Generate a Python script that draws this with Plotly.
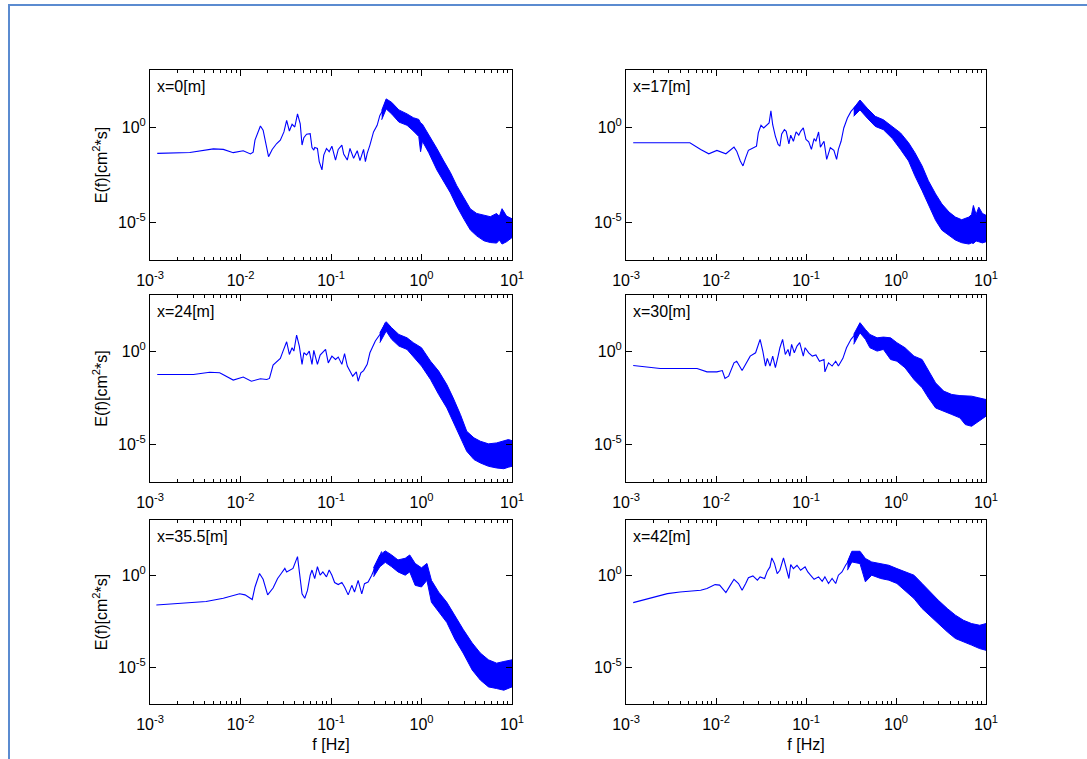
import plotly.graph_objects as go

# ---------------- data (log10 readings from the picture) ----------------
panel_labels = ["x=0[m]", "x=17[m]", "x=24[m]", "x=30[m]", "x=35.5[m]", "x=42[m]"]

# low-frequency part of each spectrum: log10 f [Hz], log10 E [cm^2 s]
lf_0 = [-2.92, -2.56, -2.30, -2.19, -2.08, -1.97, -1.89, -1.86, -1.84, -1.78, -1.75, -1.72, -1.69, -1.65, -1.60, -1.56,
        -1.52, -1.49, -1.46, -1.43, -1.40, -1.37, -1.34, -1.32, -1.30, -1.27, -1.23, -1.21, -1.19, -1.18, -1.15, -1.13,
        -1.10, -1.08, -1.05, -1.02, -0.99, -0.95, -0.92, -0.88, -0.86, -0.82, -0.79, -0.75, -0.71, -0.68, -0.64, -0.62,
        -0.60, -0.57, -0.53, -0.49, -0.46, -0.42, -0.39]
lE_0 = [-1.39, -1.34, -1.15, -1.18, -1.35, -1.25, -1.42, -1.32, -0.69, 0.05, -0.17, -0.87, -1.56, -1.18, -0.87, -0.69,
        -0.26, 0.35, -0.21, 0.14, 0.00, 0.69, 0.17, -0.95, -0.56, -0.38, -0.35, -1.08, -1.22, -1.08, -1.13, -1.82,
        -2.26, -1.48, -1.13, -1.30, -1.01, -1.74, -1.18, -0.95, -1.42, -1.74, -1.13, -1.65, -1.25, -1.77, -1.18, -1.82,
        -1.39, -0.95, -0.26, 0.09, 0.61, 0.95, 1.42]

lf_17 = [-2.92, -2.29, -2.17, -2.08, -1.99, -1.89, -1.80, -1.77, -1.73, -1.70, -1.67, -1.64, -1.60, -1.55, -1.53, -1.50,
         -1.47, -1.44, -1.41, -1.39, -1.37, -1.34, -1.31, -1.29, -1.27, -1.24, -1.22, -1.19, -1.17, -1.14, -1.11, -1.08,
         -1.06, -1.03, -1.00, -0.97, -0.94, -0.91, -0.89, -0.86, -0.84, -0.80, -0.77, -0.73, -0.69, -0.66, -0.64, -0.61,
         -0.58, -0.54, -0.50, -0.45, -0.40]
lE_17 = [-0.83, -0.83, -1.18, -1.41, -1.23, -1.41, -1.06, -1.27, -1.79, -2.05, -1.61, -1.23, -1.13, -1.01, -0.31, 0.09,
         -0.05, 0.09, 0.21, 0.85, 0.12, -0.49, -0.92, -1.01, -0.36, -0.14, -0.23, -0.89, -0.43, -0.75, -0.26, -0.43,
         -0.23, -0.05, -0.66, -0.78, -1.18, -0.61, -0.75, -0.26, -1.06, -0.75, -1.70, -1.09, -1.23, -1.70, -1.18, -0.75,
         -0.05, 0.47, 0.82, 1.08, 1.37]

lf_24 = [-2.92, -2.52, -2.34, -2.23, -2.08, -1.97, -1.88, -1.78, -1.71, -1.68, -1.64, -1.56, -1.53, -1.49, -1.46, -1.43,
         -1.41, -1.38, -1.35, -1.32, -1.30, -1.27, -1.24, -1.21, -1.19, -1.15, -1.12, -1.06, -1.03, -0.99, -0.95, -0.92,
         -0.88, -0.85, -0.82, -0.79, -0.76, -0.72, -0.70, -0.67, -0.64, -0.60, -0.57, -0.51, -0.46, -0.40]
lE_24 = [-1.25, -1.25, -1.13, -1.16, -1.55, -1.39, -1.61, -1.48, -1.52, -1.46, -0.75, -0.39, 0.00, 0.50, -0.18, 0.18,
         0.00, 0.86, 0.27, -0.71, -0.09, -0.21, 0.00, -0.71, 0.04, -0.71, -0.21, 0.09, -0.63, -0.27, -0.45, -0.32,
         -0.71, -0.14, -0.80, -1.07, -1.34, -1.11, -1.61, -1.16, -1.04, -0.71, -0.09, 0.54, 0.89, 1.52]

lf_30 = [-2.92, -2.62, -2.21, -2.10, -1.99, -1.93, -1.90, -1.86, -1.80, -1.77, -1.71, -1.67, -1.62, -1.56, -1.51, -1.48,
         -1.45, -1.43, -1.40, -1.37, -1.34, -1.31, -1.29, -1.26, -1.23, -1.20, -1.18, -1.16, -1.13, -1.10, -1.07, -1.03,
         -1.01, -0.97, -0.93, -0.89, -0.85, -0.80, -0.79, -0.75, -0.71, -0.67, -0.64, -0.59, -0.55, -0.50, -0.44, -0.40]
lE_30 = [-0.77, -0.93, -0.93, -1.11, -1.11, -1.04, -1.46, -1.34, -0.63, -0.54, -1.04, -0.71, -0.27, -0.09, 0.63, 0.00,
         -0.80, -0.39, -0.80, -0.27, -0.89, -0.27, 0.18, 0.63, -0.18, 0.09, -0.27, 0.36, -0.09, 0.27, 0.45, -0.27,
         0.18, -0.09, -0.27, -0.21, -0.54, -0.45, -1.11, -0.63, -0.80, -0.54, -0.80, -0.39, 0.18, 0.63, 0.98, 1.46]

lf_35 = [-2.93, -2.38, -2.19, -2.01, -1.95, -1.90, -1.87, -1.84, -1.79, -1.75, -1.72, -1.70, -1.64, -1.59, -1.55, -1.51,
         -1.49, -1.46, -1.42, -1.37, -1.35, -1.32, -1.29, -1.26, -1.23, -1.21, -1.18, -1.15, -1.12, -1.09, -1.05, -1.02,
         -0.99, -0.96, -0.92, -0.88, -0.85, -0.81, -0.77, -0.74, -0.70, -0.66, -0.63, -0.59, -0.55, -0.51, -0.48, -0.44]
lE_35 = [-1.62, -1.43, -1.25, -1.01, -1.07, -1.25, -1.32, -0.64, 0.09, -0.22, -0.83, -1.07, -0.70, -0.18, 0.09, 0.37,
         0.18, 0.28, 0.37, 1.01, 0.18, -1.01, -1.25, -0.83, 0.00, 0.28, -0.18, 0.46, 0.00, 0.18, -0.09, 0.28,
         0.00, -0.40, -0.51, -0.40, -0.64, -1.07, -0.55, -0.92, -0.28, -1.01, -0.46, -0.37, 0.00, 0.46, 0.83, 1.29]

lf_42 = [-2.92, -2.73, -2.54, -2.40, -2.17, -2.10, -2.01, -1.96, -1.89, -1.84, -1.80, -1.75, -1.71, -1.67, -1.64, -1.59,
         -1.54, -1.51, -1.46, -1.43, -1.40, -1.38, -1.35, -1.32, -1.29, -1.25, -1.22, -1.19, -1.17, -1.14, -1.10, -1.06,
         -1.01, -0.98, -0.95, -0.91, -0.86, -0.82, -0.79, -0.75, -0.71, -0.67, -0.64, -0.60, -0.56, -0.53, -0.49]
lE_42 = [-1.49, -1.23, -1.00, -0.91, -0.82, -0.72, -0.51, -0.54, -0.94, -0.54, -0.22, -0.45, -0.82, -0.45, -0.14, -0.04,
         -0.27, -0.09, -0.18, 0.22, 0.45, 0.94, 0.63, 0.09, 0.27, 0.94, 0.45, -0.18, 0.58, 0.36, 0.54, 0.27,
         0.45, 0.18, 0.00, -0.22, -0.09, -0.33, -0.09, -0.45, -0.18, -0.45, 0.00, 0.18, 0.54, 0.76, 1.27]

# noisy high-frequency band: log10 f, upper and lower envelope of log10 E
bf_0 = [-0.44, -0.39, -0.33, -0.25, -0.16, -0.09, -0.03, -0.01, 0.01, 0.08, 0.17, 0.24, 0.32, 0.39, 0.47, 0.54, 0.61,
        0.69, 0.76, 0.83, 0.86, 0.89, 0.94, 1.00]
bhi_0 = [0.87, 1.48, 1.30, 0.90, 0.69, 0.49, 0.40, 0.21, 0.15, -0.38, -1.13, -1.74, -2.40, -3.09, -3.78, -4.31, -4.55,
         -4.65, -4.72, -4.55, -4.70, -4.30, -4.69, -4.83]
blo_0 = [0.38, 0.95, 0.69, 0.26, 0.09, -0.21, -0.50, -1.30, -0.75, -1.35, -2.26, -2.86, -3.47, -4.17, -4.86, -5.42,
         -5.73, -5.99, -6.08, -6.11, -5.95, -6.16, -6.04, -5.82]

bf_17 = [-0.47, -0.40, -0.32, -0.23, -0.14, -0.04, 0.05, 0.14, 0.21, 0.29, 0.36, 0.44, 0.51, 0.59, 0.66, 0.73, 0.81,
         0.84, 0.86, 0.89, 0.92, 0.96, 1.00]
bhi_17 = [0.99, 1.42, 0.99, 0.56, 0.38, 0.03, -0.31, -0.83, -1.35, -2.05, -2.83, -3.52, -4.05, -4.48, -4.74, -4.88,
          -4.74, -4.60, -4.13, -4.60, -4.22, -4.55, -4.65]
blo_17 = [0.56, 0.90, 0.47, 0.03, -0.14, -0.61, -1.18, -1.79, -2.57, -3.35, -4.05, -4.91, -5.43, -5.69, -5.95, -6.09,
          -6.16, -6.10, -6.13, -6.00, -6.04, -6.10, -6.04]

bf_24 = [-0.46, -0.39, -0.33, -0.25, -0.16, -0.09, 0.00, 0.10, 0.19, 0.28, 0.35, 0.43, 0.50, 0.58, 0.65, 0.74, 0.83,
         0.91, 0.96, 1.00]
bhi_24 = [0.98, 1.57, 1.25, 0.89, 0.71, 0.45, 0.18, -0.54, -1.07, -1.79, -2.50, -3.39, -4.29, -4.64, -4.82, -4.96, -4.91,
          -4.82, -4.73, -4.79]
blo_24 = [0.45, 1.07, 0.63, 0.27, 0.09, -0.27, -0.80, -1.52, -2.32, -3.04, -3.84, -4.64, -5.36, -5.80, -5.98, -6.16,
          -6.25, -6.29, -6.21, -6.16]

bf_30 = [-0.47, -0.40, -0.34, -0.29, -0.21, -0.14, -0.06, 0.01, 0.10, 0.20, 0.29, 0.36, 0.44, 0.53, 0.62, 0.71, 0.77,
         0.84, 0.92, 1.00]
bhi_30 = [0.89, 1.52, 1.16, 0.89, 0.71, 0.75, 0.71, 0.45, 0.18, -0.27, -0.45, -1.07, -1.70, -2.14, -2.32, -2.38, -2.38,
          -2.41, -2.50, -2.59]
blo_30 = [0.36, 0.98, 0.63, 0.18, 0.00, 0.09, -0.45, -0.54, -0.89, -1.52, -1.96, -2.50, -3.04, -3.21, -3.39, -3.57,
          -3.93, -4.02, -3.75, -3.48]

bf_35 = [-0.53, -0.46, -0.40, -0.33, -0.26, -0.18, -0.13, -0.07, 0.00, 0.06, 0.11, 0.19, 0.28, 0.37, 0.46, 0.56, 0.65,
         0.74, 0.83, 0.91, 1.00]
bhi_35 = [0.40, 1.10, 1.32, 1.10, 0.83, 0.92, 1.10, 0.64, 0.40, 0.64, -0.28, -0.92, -1.47, -2.21, -2.94, -3.68, -4.23,
          -4.60, -4.78, -4.69, -4.60]
blo_35 = [-0.09, 0.46, 0.70, 0.46, 0.18, 0.00, 0.18, -0.55, -0.64, -0.28, -1.47, -2.02, -2.57, -3.49, -4.23, -5.15,
          -5.70, -6.07, -6.16, -6.25, -6.07]

bf_42 = [-0.54, -0.49, -0.40, -0.34, -0.27, -0.17, -0.08, 0.01, 0.10, 0.20, 0.29, 0.38, 0.47, 0.57, 0.66, 0.75, 0.84,
         0.93, 1.00]
bhi_42 = [0.72, 1.30, 1.30, 0.91, 0.72, 0.63, 0.54, 0.36, 0.18, 0.00, -0.45, -0.91, -1.36, -1.81, -2.17, -2.45, -2.63,
          -2.72, -2.63]
blo_42 = [0.27, 0.72, 0.63, -0.36, 0.00, -0.18, -0.27, -0.45, -0.82, -1.27, -1.81, -2.17, -2.63, -3.08, -3.44, -3.62,
          -3.80, -3.99, -4.08]

line_f = [lf_0, lf_17, lf_24, lf_30, lf_35, lf_42]
line_E = [lE_0, lE_17, lE_24, lE_30, lE_35, lE_42]
band_f = [bf_0, bf_17, bf_24, bf_30, bf_35, bf_42]
band_hi = [bhi_0, bhi_17, bhi_24, bhi_30, bhi_35, bhi_42]
band_lo = [blo_0, blo_17, blo_24, blo_30, blo_35, blo_42]

x_tick_exp = [-3, -2, -1, 0, 1]
y_tick_exp = [-5, 0]

# ---------------- layout (pixel geometry) ----------------
W, H = 1087, 759
col_px = [(150, 512), (626, 986)]
row_px = [(70, 260), (295, 482), (520, 704)]
BLUE = "#0000ff"
FONT = "Liberation Sans, Arial, Helvetica, sans-serif"
FS = 16


def px_x(p):
    return p / W


def px_y(p):
    return 1 - p / H


fig = go.Figure()

x_major = [10.0 ** e for e in x_tick_exp]
x_major_txt = ["10<sup>%d</sup>" % e for e in x_tick_exp]
x_minor = [m * 10.0 ** e for e in x_tick_exp[:-1] for m in range(2, 10)]
y_major = [10.0 ** e for e in y_tick_exp]
y_major_txt = ["10<sup>%d</sup>" % e for e in y_tick_exp]

annotations = []
for i in range(6):
    r, c = divmod(i, 2)
    k = i + 1
    xa = "x" if k == 1 else "x%d" % k
    ya = "y" if k == 1 else "y%d" % k
    (x0, x1), (y0, y1) = col_px[c], row_px[r]

    f_line = [10.0 ** v for v in line_f[i]]
    e_line = [10.0 ** v for v in line_E[i]]
    fig.add_trace(go.Scatter(x=f_line, y=e_line, mode="lines", line=dict(color=BLUE, width=1.1),
                             xaxis=xa, yaxis=ya, showlegend=False, hoverinfo="skip"))
    bx = [10.0 ** v for v in band_f[i]]
    bx = bx + bx[::-1]
    by = [10.0 ** v for v in band_hi[i]] + [10.0 ** v for v in band_lo[i]][::-1]
    fig.add_trace(go.Scatter(x=bx, y=by, mode="lines", fill="toself", fillcolor=BLUE,
                             line=dict(color=BLUE, width=1), xaxis=xa, yaxis=ya,
                             showlegend=False, hoverinfo="skip"))

    xkey = "xaxis" if k == 1 else "xaxis%d" % k
    ykey = "yaxis" if k == 1 else "yaxis%d" % k
    fig.layout[xkey] = dict(
        type="log", range=[-3, 1], domain=[px_x(x0), px_x(x1)], anchor=ya, automargin=False,
        tickmode="array", tickvals=x_major, ticktext=x_major_txt,
        ticks="inside", ticklen=6, tickcolor="black", mirror="allticks",
        showline=True, linecolor="black", linewidth=1, showgrid=False, zeroline=False,
        tickfont=dict(family=FONT, size=FS, color="black"), ticklabelstandoff=6,
        minor=dict(tickmode="array", tickvals=x_minor, ticks="inside", ticklen=3, tickcolor="black",
                   showgrid=False),
        title=dict(text="f [Hz]" if r == 2 else "", font=dict(family=FONT, size=FS, color="black"),
                   standoff=6),
    )
    fig.layout[ykey] = dict(
        type="log", range=[-7, 3], domain=[px_y(y1), px_y(y0)], anchor=xa, automargin=False,
        tickmode="array", tickvals=y_major, ticktext=y_major_txt,
        ticks="inside", ticklen=6, tickcolor="black", mirror="allticks",
        showline=True, linecolor="black", linewidth=1, showgrid=False, zeroline=False,
        tickfont=dict(family=FONT, size=FS, color="black"),
        title=dict(text="E(f)[cm<sup>2</sup>*s]" if c == 0 else "",
                   font=dict(family=FONT, size=FS, color="black"), standoff=6),
    )
    annotations.append(dict(text=panel_labels[i], xref="paper", yref="paper",
                            x=px_x(x0 + 5), y=px_y(y0 + 6), xanchor="left", yanchor="top",
                            showarrow=False, font=dict(family=FONT, size=FS, color="black")))

fig.update_layout(
    width=W, height=H, margin=dict(l=0, r=0, t=0, b=0, autoexpand=False),
    paper_bgcolor="white", plot_bgcolor="white",
    annotations=annotations,
    shapes=[dict(type="rect", xref="paper", yref="paper", x0=px_x(9), x1=1.2, y0=-0.2, y1=px_y(5),
                 line=dict(color="#5b8bd0", width=2), fillcolor="rgba(0,0,0,0)", layer="below")],
)

fig.write_html("out.html", config={"displayModeBar": False},
               post_script="document.body.style.margin='0';document.body.style.overflow='hidden';")
